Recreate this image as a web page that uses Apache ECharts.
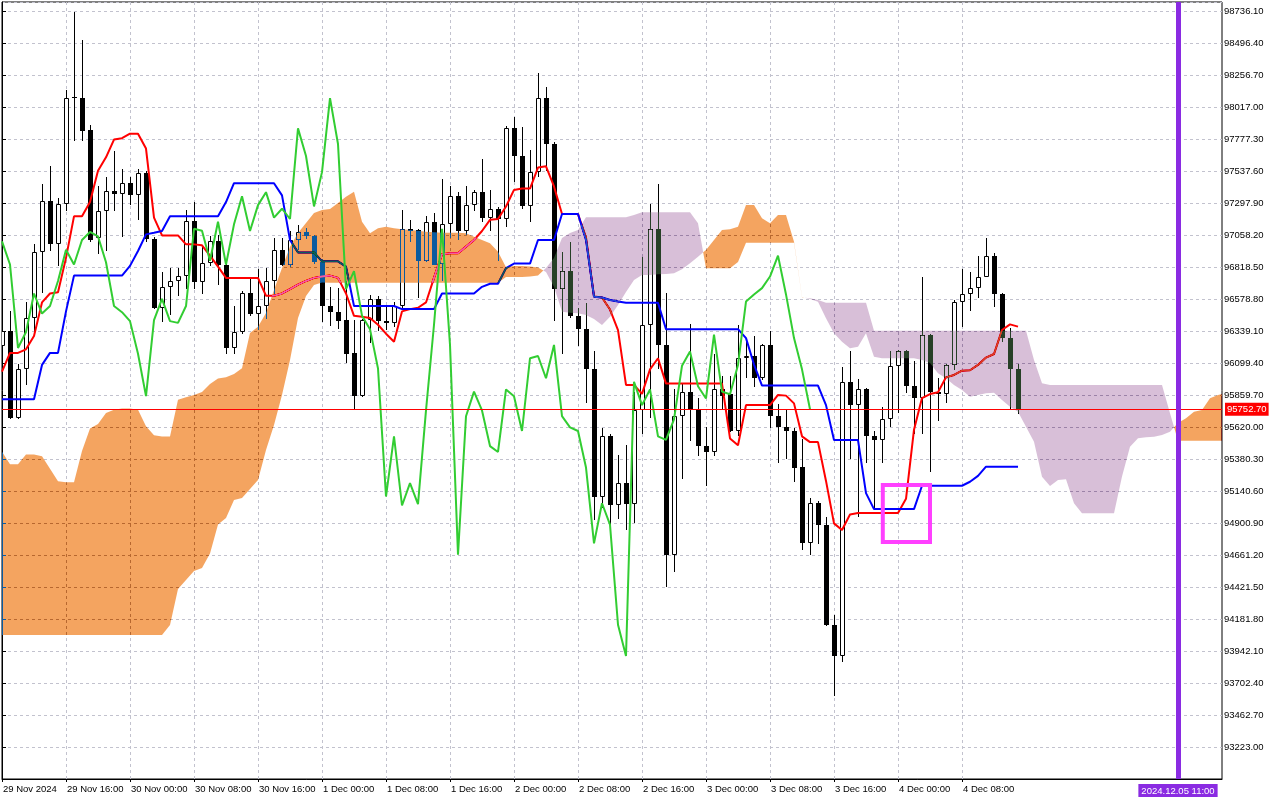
<!DOCTYPE html>
<html>
<head>
<meta charset="utf-8">
<script src="https://cdn.jsdelivr.net/npm/echarts@6.0.0/dist/echarts.min.js"></script>
<style>html,body{margin:0;padding:0;background:#fff}#c{width:1280px;height:800px}</style>
</head>
<body>
<div id="c"></div>
<script>
// ---- data (hourly bars, index 0 = 29 Nov 2024 08:00) ----
const timeLabels = ['29 Nov 2024','29 Nov 16:00','30 Nov 00:00','30 Nov 08:00','30 Nov 16:00','1 Dec 00:00','1 Dec 08:00','1 Dec 16:00','2 Dec 00:00','2 Dec 08:00','2 Dec 16:00','3 Dec 00:00','3 Dec 08:00','3 Dec 16:00','4 Dec 00:00','4 Dec 08:00'];
const opens = [96226,96336,95690,96058,96433,96928,97312,96994,97289,98084,98084,97846,97038,97238,97386,97362,97449,97355,97523,97028,
96513,96670,96714,96754,97165,96704,96847,97011,96837,96212,96332,96620,96470,96526,96714,96948,96837,97021,97081,97048,
96854,96530,96480,96420,96176,95851,96420,96580,96413,96396,96526,97105,97095,96865,97158,96840,97138,97349,97088,97282,
97379,97188,97255,97178,97857,97650,97272,97529,98084,97740,96653,96787,96453,96353,96058,95099,95550,95032,95199,95042,
95744,96386,97105,96235,94664,95701,95885,95744,95477,95433,95901,95868,95590,96135,96152,95985,96235,95701,95617,95590,
95320,94748,95049,94888,94139,93905,95958,95784,95901,95550,95524,95677,96078,96186,95925,95834,96312,95885,95865,96085,
96560,96613,96660,96747,96904,96613,96286,96052];
const highs = [96356,96486,96092,96553,96990,97439,97573,97332,98141,98726,98519,97884,97422,97489,97690,97556,97496,97556,97539,97040,
96780,96814,96810,97249,97305,96971,97048,97055,96845,96526,96637,96737,96804,96810,97038,97038,97088,97131,97110,97060,
96875,96670,96660,96714,96420,96430,96610,96603,96520,96553,97249,97172,97100,97198,97225,97476,97422,97382,97422,97395,
97630,97396,97265,97874,97940,97864,97696,98275,98164,97757,96928,97005,96513,96546,96186,95610,95567,95410,95483,95885,
96894,97289,97439,96627,95901,95951,96393,95834,95617,96169,96002,96002,96386,96286,96303,96245,96336,95791,95744,95610,
95533,95089,95066,94948,94213,96068,96186,95978,95910,95590,95768,96192,96195,96195,96112,96747,96320,95985,96095,96570,
96804,96780,96904,97038,96921,96620,96360,96092];
const lows = [96216,95677,95680,95934,96330,96620,96938,96827,97240,97763,97763,97004,96914,96938,97238,97041,97282,97172,97004,96505,
96403,96460,96603,96653,96653,96614,96827,96680,96169,96165,96313,96453,96347,96426,96614,96827,96820,96948,97030,96838,
96403,96380,96353,96102,95757,95845,96252,96336,96346,96370,96515,97004,96586,96855,96830,96714,97038,97021,97055,97238,
97155,97088,96861,97120,97456,97255,97155,97496,97540,96413,96169,96436,96226,95801,94922,95015,94882,94932,94848,94898,
95567,95684,96052,94420,94531,95233,95517,95400,95176,95400,95751,95580,95550,95985,95918,95975,95610,95350,95383,95209,
94698,94664,94741,94130,93605,93862,95383,94948,95350,95015,95350,95617,95724,95878,95567,95567,95283,95667,95801,96050,
96370,96486,96587,96740,96520,96260,95751,95718];
const closes = [96336,95684,96058,96433,96928,97312,96994,97289,98084,98095,97840,97021,97238,97386,97362,97449,97355,97523,97028,96513,
96670,96714,96754,97165,96704,96847,97011,96837,96212,96332,96620,96470,96526,96714,96948,96837,97021,97081,97048,96854,
96526,96480,96413,96169,95851,96420,96580,96413,96400,96526,97105,97090,96865,97158,96837,97138,97349,97088,97282,97379,
97188,97255,97178,97857,97650,97272,97529,98084,97740,96653,96787,96453,96353,96058,95099,95550,95032,95199,95042,95744,
96386,97105,96235,94664,95701,95885,95744,95477,95433,95901,95851,95590,96135,96152,95985,96235,95701,95617,95590,95316,
94748,95049,94888,94139,93905,95958,95784,95901,95550,95524,95677,96078,96186,95925,95834,96312,95885,95865,96085,96560,
96613,96660,96747,96904,96613,96286,96052,95752.7];
const tenkan = [96035,96175,96175,96202,96302,96553,96620,96630,96887,97198,97198,97305,97539,97640,97773,97783,97817,97817,97706,97188,
97055,97055,97055,96988,96988,96981,96904,96821,96737,96737,96737,96737,96737,96603,96603,96620,96653,96687,96714,96737,
96747,96754,96737,96620,96453,96446,96436,96386,96319,96259,96486,96503,96513,96553,96737,96914,96921,96921,96971,97021,
97088,97172,97178,97272,97396,97406,97406,97563,97573,97422,97215,97215,97215,97038,96598,96590,96500,96345,95935,95935,
95868,96052,96135,95945,95945,95945,95945,95945,95945,95945,95945,95534,95483,95784,95784,95784,95784,95860,95855,95797,
95550,95507,95507,95216,94898,94848,94965,94975,94975,94975,94975,94975,94975,95082,95600,95837,95867,95880,95992,96010,
96042,96045,96085,96140,96167,96347,96389,96372];
const kijun = [95828,95828,95828,95828,95828,96085,96175,96175,96486,96754,96754,96754,96754,96754,96754,96754,96827,96938,97063,97075,
97088,97198,97198,97198,97198,97198,97198,97198,97305,97446,97446,97446,97446,97446,97446,97355,97021,96928,96928,96928,
96861,96861,96861,96821,96526,96526,96526,96526,96526,96526,96503,96503,96503,96503,96503,96620,96620,96620,96620,96620,
96670,96693,96693,96810,96844,96844,96844,97021,97021,97021,97215,97215,97215,97021,96596,96590,96571,96560,96551,96551,
96551,96551,96551,96353,96353,96353,96353,96353,96353,96353,96353,96353,96353,96286,96088,95930,95930,95930,95930,95930,
95930,95930,95930,95784,95522,95522,95522,95522,95125,95005,95005,95005,95005,95005,95005,95180,95180,95180,95180,95180,
95180,95210,95254,95323,95323,95323,95323,95323];
const senkouA = [95434,95341,95341,95414,95414,95401,95307,95213,95207,95207,95441,95608,95642,95725,95749,95759,95759,95749,95625,95558,
95548,95548,95825,95842,95860,95882,95942,95983,95993,96017,96060,96324,96371,96474,96646,96811,96971,97073,97148,97223,
97245,97253,97298,97345,97383,97158,97071,97108,97120,97108,97101,97096,97090,97083,97078,97075,97075,97075,97071,97045,
97021,96996,96933,96816,96826,96826,96822,96815,96781,96671,96484,96476,96472,96459,96429,96384,96446,96534,96631,96721,
96759,96759,96764,96766,96771,96801,96846,96896,96946,97021,97096,97101,97120,97283,97283,97183,97146,97208,97208,97008,
96594,96579,96559,96434,96322,96259,96210,96221,96322,96147,96135,96135,96135,96135,96135,96122,96099,96022,95985,95935,
95897,95847,95860,95872,95877,95822,95772,95735,95622,95510,95248,95178,95223,95228,95048,94974,94974,94974,94974,94974,
95250,95472,95535,95543,95547,95560,95585,95650,95685,95735,95747,95835,95860,95875];
const senkouB = [94062,94062,94062,94062,94062,94062,94062,94062,94062,94062,94062,94062,94062,94062,94062,94062,94062,94062,94062,94062,
94062,94137,94406,94474,94541,94564,94672,94889,94938,95073,95088,95156,95223,95448,95635,95860,96122,96436,96601,96684,
96702,96701,96701,96701,96701,96701,96701,96701,96701,96701,96701,96701,96701,96701,96701,96701,96701,96701,96701,96701,
96701,96701,96701,96744,96744,96744,96747,96755,96811,96886,97036,97073,97096,97191,97191,97191,97191,97191,97191,97208,
97228,97228,97228,97228,97228,97228,97228,97146,96809,96809,96809,96809,96856,97001,97001,97001,97001,97001,97001,97001,
96591,96584,96571,96551,96551,96551,96551,96551,96551,96341,96341,96341,96341,96341,96341,96341,96341,96341,96341,96341,
96341,96341,96341,96341,96341,96341,96341,96341,96341,96122,95947,95935,95935,95935,95935,95935,95935,95935,95935,95935,
95935,95935,95935,95935,95935,95935,95723,95517,95517,95517,95517,95517,95517,95517];
const lastPrice = 95752.70;
const markerTimeLabel = '2024.12.05 11:00';
const markerTimeIndex = 147;            // bar index of 2024.12.05 11:00
const boxBars = [110.1, 116];           // highlighted region (bar index range)
const boxPrices = [95186, 94759];       // highlighted region (price range)

// ---- chart ----
const FONT = "'Liberation Sans', Arial, sans-serif";
const FS = 9.5;
const chart = echarts.init(document.getElementById('c'), null, {renderer: 'canvas'});
const labelKs = timeLabels.map((_, i) => i * 8);
const candleData = opens.map((o, i) => [i, o, closes[i], lows[i], highs[i]]);
const pairs = arr => arr.map((v, i) => [i, v]);
const chikou = closes.slice(26).map((v, i) => [i, v]);
const gridLine = {color: '#c2c2ce', width: 1, type: [3, 3]};

function renderCandle(params, api) {
  const k = api.value(0), o = api.value(1), c = api.value(2), l = api.value(3), h = api.value(4);
  const pO = api.coord([k, o]), pC = api.coord([k, c]), pH = api.coord([k, h]), pL = api.coord([k, l]);
  const cx = Math.round(pO[0]);
  const yTop = Math.round(Math.min(pO[1], pC[1])), yBot = Math.round(Math.max(pO[1], pC[1]));
  const children = [{
    type: 'line',
    shape: {x1: cx + 0.5, y1: Math.round(pH[1]), x2: cx + 0.5, y2: Math.round(pL[1])},
    style: {stroke: '#000', lineWidth: 1}
  }];
  if (c < o) {
    children.push({type: 'rect', shape: {x: cx - 2, y: yTop, width: 5, height: Math.max(1, yBot - yTop)}, style: {fill: '#000'}});
  } else if (yBot - yTop < 2) {
    children.push({type: 'rect', shape: {x: cx - 2, y: yTop, width: 5, height: 1}, style: {fill: '#000'}});
  } else {
    children.push({type: 'rect', shape: {x: cx - 1.5, y: yTop + 0.5, width: 4, height: yBot - yTop - 1},
      style: {fill: '#fff', stroke: '#000', lineWidth: 1}});
  }
  return {type: 'group', children};
}

function renderCloud(params, api) {
  const children = [];
  const n = senkouA.length;
  let sign = null, up = [], dn = [];
  const flush = () => {
    if (up.length > 1) {
      children.push({
        type: 'polygon',
        shape: {points: up.concat(dn.slice().reverse())},
        style: {fill: sign > 0 ? 'rgb(11,91,159)' : 'rgb(39,64,39)'}
      });
    }
  };
  for (let k = 0; k < n; k++) {
    const a = senkouA[k], b = senkouB[k], d = a - b;
    const s = d > 0 ? 1 : (d < 0 ? -1 : 0);
    if (k === 0) {
      sign = s || 1;
      up.push(api.coord([k, a])); dn.push(api.coord([k, b]));
      continue;
    }
    if (s !== 0 && s !== sign) {
      const a0 = senkouA[k - 1], b0 = senkouB[k - 1], d0 = a0 - b0;
      const t = d0 / (d0 - d);
      const pi = api.coord([k - 1 + t, a0 + t * (a - a0)]);
      up.push(pi); dn.push(pi);
      flush();
      sign = s; up = [pi]; dn = [pi];
    }
    up.push(api.coord([k, a])); dn.push(api.coord([k, b]));
  }
  flush();
  return {type: 'group', children};
}

const option = {
  backgroundColor: '#ffffff',
  animation: false,
  grid: {left: 2, right: 58, top: 2, bottom: 21, show: true, borderColor: '#000', borderWidth: 1},
  xAxis: {
    type: 'value', min: 0, max: 152.5, interval: 4,
    axisLine: {show: true, lineStyle: {color: '#000', width: 1}},
    axisTick: {show: true, length: 3, customValues: labelKs, lineStyle: {color: '#000'}},
    axisLabel: {show: true, customValues: labelKs, formatter: v => timeLabels[Math.round(v / 8)] || '',
      align: 'left', margin: 5, color: '#000', fontFamily: FONT, fontSize: FS, padding: [0, 0, 0, 1]},
    splitLine: {show: true, lineStyle: gridLine}
  },
  yAxis: {
    type: 'value', position: 'right', min: 92983.3, max: 98803.5, interval: 239.7,
    axisLine: {show: true, lineStyle: {color: '#000', width: 1}},
    axisTick: {show: true, length: 4, lineStyle: {color: '#000'}},
    axisLabel: {show: true, margin: 2, color: '#000', fontFamily: FONT, fontSize: FS,
      showMinLabel: false, showMaxLabel: false, formatter: v => v.toFixed(2)},
    splitLine: {show: true, lineStyle: gridLine}
  },
  series: [
    {type: 'custom', name: 'price', z: 2, clip: true, silent: true, data: candleData,
      encode: {x: 0, y: [1, 2, 3, 4]}, renderItem: renderCandle},
    {type: 'line', name: 'Tenkan-sen', z: 3, data: pairs(tenkan), showSymbol: false, symbol: 'none', silent: true,
      lineStyle: {color: '#ff0000', width: 2}},
    {type: 'line', name: 'Kijun-sen', z: 3, data: pairs(kijun), showSymbol: false, symbol: 'none', silent: true,
      lineStyle: {color: '#0000ff', width: 2}},
    {type: 'custom', name: 'Kumo', z: 4, clip: true, silent: true, blendMode: 'difference',
      data: [[0, senkouA[0], senkouB[0]]], encode: {x: 0, y: [1, 2]}, renderItem: renderCloud},
    {type: 'line', name: 'Chikou Span', z: 6, data: chikou, showSymbol: false, symbol: 'none', silent: true,
      lineStyle: {color: '#32cd32', width: 2},
      markLine: {
        silent: true, z: 7, symbol: ['none', 'none'], animation: false,
        data: [
          {yAxis: lastPrice, lineStyle: {color: '#ff0000', width: 1, type: 'solid'},
            label: {show: true, position: 'end', formatter: lastPrice.toFixed(2), color: '#fff', backgroundColor: '#ff0000',
              padding: [2, 2, 1, 2], distance: 3, fontFamily: FONT, fontSize: FS}},
          {xAxis: markerTimeIndex, lineStyle: {color: '#8a2be2', width: 5, type: 'solid'},
            label: {show: true, position: 'start', formatter: markerTimeLabel, color: '#fff', backgroundColor: '#8a2be2',
              padding: [2, 3, 1, 3], distance: 5, fontFamily: FONT, fontSize: FS}}
        ]
      },
      markArea: {
        silent: true, z: 8,
        itemStyle: {color: 'rgba(0,0,0,0)', borderColor: '#ff40ff', borderWidth: 4},
        data: [[{coord: [boxBars[0], boxPrices[0]]}, {coord: [boxBars[1], boxPrices[1]]}]]
      }
    }
  ]
};
chart.setOption(option);
</script>
</body>
</html>
